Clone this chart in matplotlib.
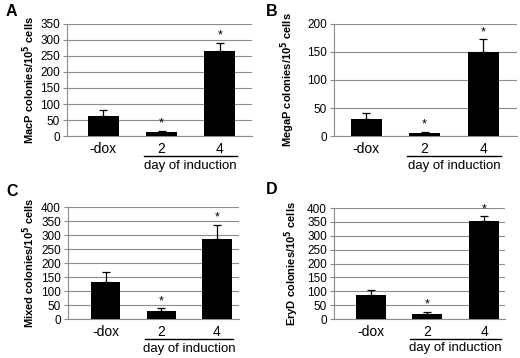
import matplotlib
matplotlib.use("Agg")
import matplotlib.pyplot as plt
import matplotlib.transforms as mtransforms

plt.rcParams['font.family'] = ['Liberation Sans', 'DejaVu Sans']

# data
categories = ["-dox", "2", "4"]
panel_letters = ["A", "B", "C", "D"]
ylabels = ["MacP colonies/10$^\\mathbf{5}$ cells",
           "MegaP colonies/10$^\\mathbf{5}$ cells",
           "Mixed colonies/10$^\\mathbf{5}$ cells",
           "EryD colonies/10$^\\mathbf{5}$ cells"]
macp_vals = [63, 12, 266]
macp_err = [18, 4, 25]
megap_vals = [31, 5, 150]
megap_err = [10, 3, 23]
mixed_vals = [132, 30, 284]
mixed_err = [36, 8, 52]
eryd_vals = [86, 19, 352]
eryd_err = [18, 7, 18]
sig_flags = [False, True, True]
ymaxes = [350, 200, 400, 400]
ysteps = [50, 50, 50, 50]

W, H = 520, 358
# axes rects in pixels: left, top, right, bottom
rects_px = [(67, 24, 252, 136), (334, 24, 517, 136),
            (68, 207, 239, 319), (334, 208, 505, 319)]
xlims = [(-0.62, 2.55), (-0.55, 2.58), (-0.68, 2.4), (-0.65, 2.37)]
label_x = [-0.162, -0.202, -0.181, -0.193]
letter_pos = [(6, 12), (266, 12), (6, 192), (266, 189)]

fig = plt.figure(figsize=(W / 100, H / 100), dpi=100)

all_vals = [macp_vals, megap_vals, mixed_vals, eryd_vals]
all_err = [macp_err, megap_err, mixed_err, eryd_err]

for i in range(4):
    l, t, r, b = rects_px[i]
    ax = fig.add_axes([l / W, 1 - b / H, (r - l) / W, (b - t) / H])
    x = range(len(categories))
    vals = all_vals[i]
    errs = all_err[i]
    ax.bar(x, vals, width=0.53, color='black', zorder=3)
    ax.errorbar(x, vals, yerr=[[0] * 3, errs], fmt='none', ecolor='black',
                elinewidth=0.9, capsize=3, capthick=0.9, zorder=4)
    ymax = ymaxes[i]
    for j, flag in enumerate(sig_flags):
        if flag:
            ax.text(j, vals[j] + errs[j] + ymax * 0.01, "*", ha='center', va='bottom',
                    fontsize=9, color='black')

    ax.set_xlim(*xlims[i])
    ax.set_ylim(0, ymax)
    ax.set_yticks(range(0, ymax + 1, ysteps[i]))
    ax.yaxis.grid(True, color='#8c8c8c', linewidth=0.8, zorder=0)
    ax.set_axisbelow(True)
    ax.set_xticks(list(x))
    ax.set_xticklabels(categories, fontsize=10)
    ax.tick_params(axis='x', length=0, pad=4)
    ax.tick_params(axis='y', labelsize=8.5, length=3, color='#8c8c8c', pad=2)
    for s in ['top', 'right']:
        ax.spines[s].set_visible(False)
    for s in ['left', 'bottom']:
        ax.spines[s].set_color('#8c8c8c')
        ax.spines[s].set_linewidth(0.8)
    ax.set_ylabel(ylabels[i], fontsize=8, fontweight='bold')
    ax.yaxis.set_label_coords(label_x[i], 0.5)

    trans = mtransforms.blended_transform_factory(ax.transData, ax.transAxes)
    ax.plot([0.7, 2.3], [-0.18, -0.18], color='black', linewidth=1.0,
            transform=trans, clip_on=False)
    ax.text(1.5, -0.21, "day of induction", transform=trans, ha='center', va='top',
            fontsize=9.5)

    lx, ly = letter_pos[i]
    fig.text(lx / W, 1 - ly / H, panel_letters[i], fontsize=11.5, fontweight='bold',
             va='center', ha='left')

fig.savefig("out.png", dpi=100)
